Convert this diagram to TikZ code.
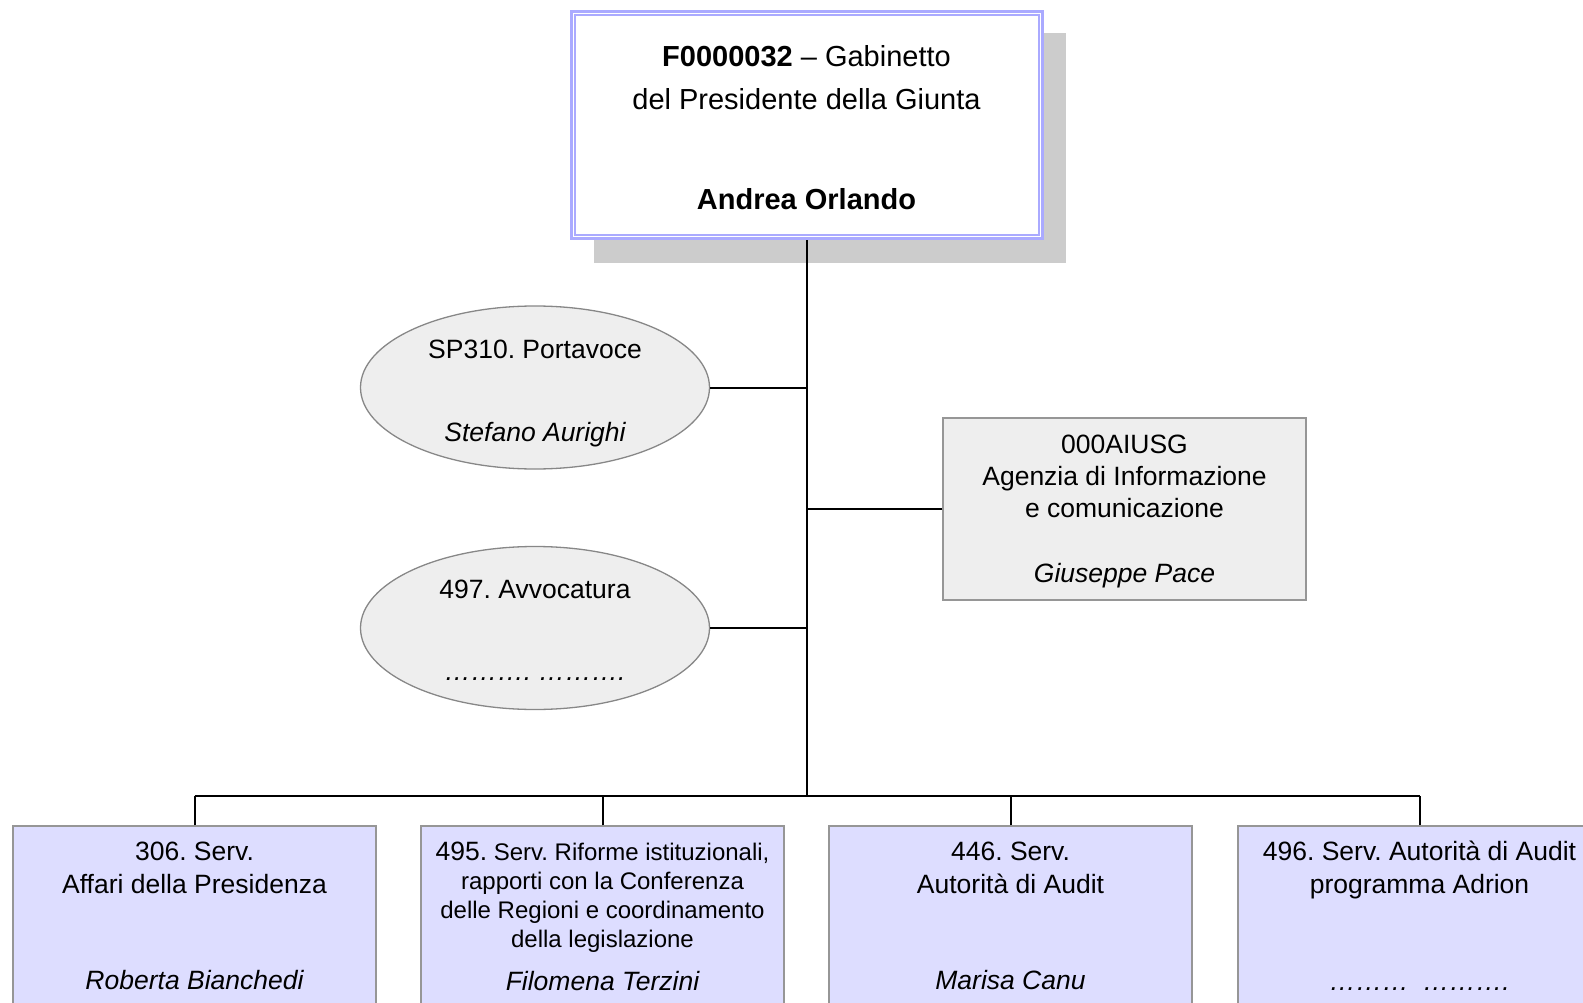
\documentclass[tikz,border=0pt]{standalone}
\usepackage{fontspec}
\setmainfont{Liberation Sans}
\usetikzlibrary{shapes.geometric}
\definecolor{lav}{RGB}{170,170,255}
\definecolor{boxfill}{RGB}{221,221,255}
\definecolor{grayfill}{RGB}{238,238,238}
\definecolor{bordergray}{RGB}{150,150,150}
\definecolor{ellborder}{RGB}{135,135,135}
\definecolor{shadowgray}{RGB}{204,204,204}
\frenchspacing
\begin{document}
\begin{tikzpicture}[x=1pt,y=-1pt,
  lbl/.style={anchor=base, inner sep=0, font=\fontsize{26.5}{30}\selectfont},
  lblbig/.style={anchor=base, inner sep=0, font=\fontsize{29}{33}\selectfont},
  lblsmall/.style={anchor=base, inner sep=0, font=\fontsize{24}{28}\selectfont},
  conn/.style={draw=black, line width=2},
  unitbox/.style={rectangle, draw=bordergray, line width=1.3, fill=boxfill, inner sep=0, minimum width=363, minimum height=184},
  staffbox/.style={rectangle, draw=bordergray, line width=1.3, fill=grayfill, inner sep=0, minimum width=363, minimum height=182},
  staffell/.style={ellipse, draw=ellborder, line width=1.3, fill=grayfill, inner sep=0, minimum width=349, minimum height=163},
  headbox/.style={rectangle, draw=lav, line width=3, fill=white, inner sep=0, minimum width=471, minimum height=227}
]
\useasboundingbox (0,0) rectangle (1583,1003);

% shadow and head box
\fill[shadowgray] (594,33) rectangle (1066,263);
\node[headbox] (head) at (806.5,125.5) {};
\draw[lav, line width=2] ([shift={(5,5)}]head.north west) rectangle ([shift={(-5,-5)}]head.south east);
\node[lblbig] (headt1) at (806.5,67) {\textbf{F0000032} – Gabinetto};
\node[lblbig] (headt2) at (806.5,110) {del Presidente della Giunta};
\node[lblbig] (headt3) at (806.5,210) {\textbf{Andrea Orlando}};

% staff ellipses
\node[staffell] (e1) at (535,387.5) {};
\node[lbl] (e1t1) at (535,358) {SP310. Portavoce};
\node[lbl] (e1t2) at (535,441) {\itshape Stefano Aurighi};
\node[staffell] (e2) at (535,628) {};
\node[lbl] (e2t1) at (535,598) {497. Avvocatura};
\node[lbl] (e2t2) at (535,680) {\itshape ………. ……….};

% staff box on the right
\node[staffbox] (rb) at (1124.5,509) {};
\node[lbl] (rbt1) at (1124.5,453) {000AIUSG};
\node[lbl] (rbt2) at (1124.5,485) {Agenzia di Informazione};
\node[lbl] (rbt3) at (1124.5,517.5) {e comunicazione};
\node[lbl] (rbt4) at (1124.5,582) {\itshape Giuseppe Pace};

% bottom units
\node[unitbox] (b1) at (194.5,918) {};
\node[unitbox] (b2) at (602.5,918) {};
\node[unitbox] (b3) at (1010.5,918) {};
\node[unitbox] (b4) at (1419.5,918) {};

\node[lbl] (b1t1) at (194.5,860) {306. Serv.};
\node[lbl] (b1t2) at (194.5,893) {Affari della Presidenza};
\node[lbl] (b1t3) at (194.5,989) {\itshape Roberta Bianchedi};

\node[lblsmall] (b2t1) at (602.5,860) {{\fontsize{26.5}{30}\selectfont 495.} Serv. Riforme istituzionali,};
\node[lblsmall] (b2t2) at (602.5,889) {rapporti con la Conferenza};
\node[lblsmall] (b2t3) at (602.5,918.5) {delle Regioni e coordinamento};
\node[lblsmall] (b2t4) at (602.5,947.5) {della legislazione};
\node[lbl] (b2t5) at (602.5,990) {\itshape Filomena Terzini};

\node[lbl] (b3t1) at (1010.5,860) {446. Serv.};
\node[lbl] (b3t2) at (1010.5,893) {Autorità di Audit};
\node[lbl] (b3t3) at (1010.5,989) {\itshape Marisa Canu};

\node[lbl] (b4t1) at (1419.5,860) {496. Serv. Autorità di Audit};
\node[lbl] (b4t2) at (1419.5,893) {programma Adrion};
\node[lbl] (b4t3) at (1419.5,990) {\itshape ………\hspace{14pt}……….};

% connectors
\coordinate (bus) at (806.5,796);
\draw[conn] (head.south) -- (bus);
\draw[conn] (e1.east) -- (e1.east -| head.south);
\draw[conn] (e2.east) -- (e2.east -| head.south);
\draw[conn] (rb.west) -- (rb.west -| head.south);
\draw[conn] (b1.north |- bus) -- (b4.north |- bus);
\draw[conn] (b1.north) -- (b1.north |- bus);
\draw[conn] (b2.north) -- (b2.north |- bus);
\draw[conn] (b3.north) -- (b3.north |- bus);
\draw[conn] (b4.north) -- (b4.north |- bus);
\end{tikzpicture}
\end{document}
